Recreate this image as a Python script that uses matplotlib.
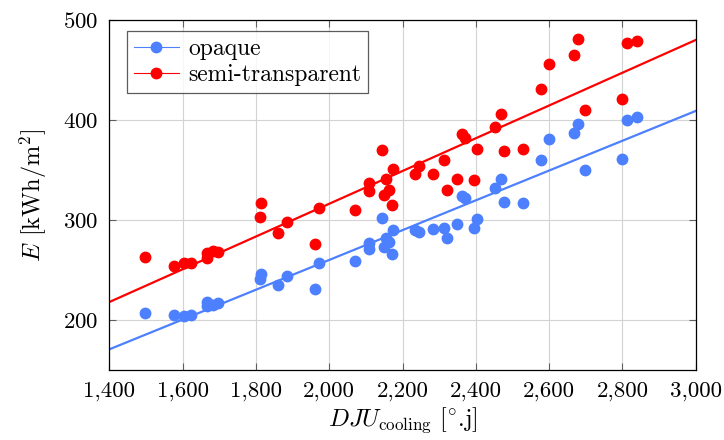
import numpy as np
import matplotlib
matplotlib.use("Agg")
import matplotlib.pyplot as plt
from matplotlib.ticker import FuncFormatter

plt.rcParams['font.family'] = 'serif'
plt.rcParams['font.serif'] = ['cmr10']
plt.rcParams['mathtext.fontset'] = 'cm'
plt.rcParams['axes.unicode_minus'] = False
plt.rcParams['axes.formatter.use_mathtext'] = True

# cooling degree days, same for both series
dju = [1497, 1576, 1604, 1622, 1666, 1667, 1682, 1697, 1814, 1812,
       1859, 1884, 1961, 1973, 2070, 2108, 2108, 2145, 2150, 2154,
       2164, 2171, 2173, 2234, 2246, 2282, 2314, 2322, 2348, 2363,
       2371, 2394, 2402, 2452, 2468, 2478, 2528, 2579, 2600, 2668,
       2678, 2697, 2798, 2812, 2839]

e_opaque = [207, 205.5, 204.5, 205.5, 218.5, 214, 215.5, 217, 246, 241,
            235, 244, 231, 257, 259.5, 277.5, 271.5, 302, 273.5, 282,
            278, 266, 290, 290, 288.5, 291, 292.5, 282.5, 296.5, 324.5,
            322, 292, 301, 332, 341, 318, 317.5, 360, 381, 387,
            396, 350.5, 361.5, 399.5, 402.5]

e_semi = [263.5, 254.5, 257, 257.5, 267, 262, 269, 268, 317, 303.5,
          287, 298, 276, 312.5, 310.5, 337, 329, 370.5, 325, 341,
          330, 315, 351, 346, 354, 346.5, 360, 330, 341, 386.5,
          382.5, 340, 371, 393, 406, 369.5, 371, 430.5, 456, 464.5,
          480.5, 409.5, 421, 476.5, 479]

blue = '#4d80ff'
red = '#ff0000'

fig = plt.figure(figsize=(7.24, 4.40), dpi=100)
ax = fig.add_axes([0.151, 0.158, 0.810, 0.797])

x = np.array(dju, dtype=float)
xx = np.array([1400, 3000], dtype=float)
for ys, col, lab in [(e_opaque, blue, 'opaque'), (e_semi, red, 'semi-transparent')]:
    ys = np.array(ys, dtype=float)
    ax.plot(x, ys, 'o', color=col, ms=7.5, zorder=3)
    k, b = np.polyfit(x, ys, 1)
    ax.plot(xx, k * xx + b, '-', color=col, lw=1.6, zorder=2)
    # legend proxy
    ax.plot([], [], '-o', color=col, lw=0.8, ms=7.5, label=lab)

ax.set_xlim(1400, 3000)
ax.set_ylim(150, 500)
ax.set_xticks(np.arange(1400, 3001, 200))
ax.set_yticks([200, 300, 400, 500])
ax.xaxis.set_major_formatter(FuncFormatter(lambda v, p: f"{v:,.0f}"))
ax.grid(True, color='#d3d3d3', lw=0.8)
ax.set_axisbelow(True)
ax.tick_params(direction='in', length=5, width=0.8, color='#606060',
               labelsize=16.5, top=True, right=True, pad=8)
for s in ax.spines.values():
    s.set_linewidth(0.9)

ax.set_xlabel(r'$DJU_{\mathrm{cooling}}$ [$^{\circ}$.j]', fontsize=17.5, labelpad=3)
ax.set_ylabel(r'$E$ [kWh/m$^2$]', fontsize=17.5, labelpad=10)

leg = ax.legend(loc='upper left', bbox_to_anchor=(0.030, 0.968), fontsize=17,
                frameon=True, fancybox=False, edgecolor='#333333',
                handlelength=1.9, handletextpad=0.4, borderpad=0.3,
                labelspacing=0.15, borderaxespad=0)
leg.get_frame().set_linewidth(0.9)

fig.savefig('out.png', dpi=100)
